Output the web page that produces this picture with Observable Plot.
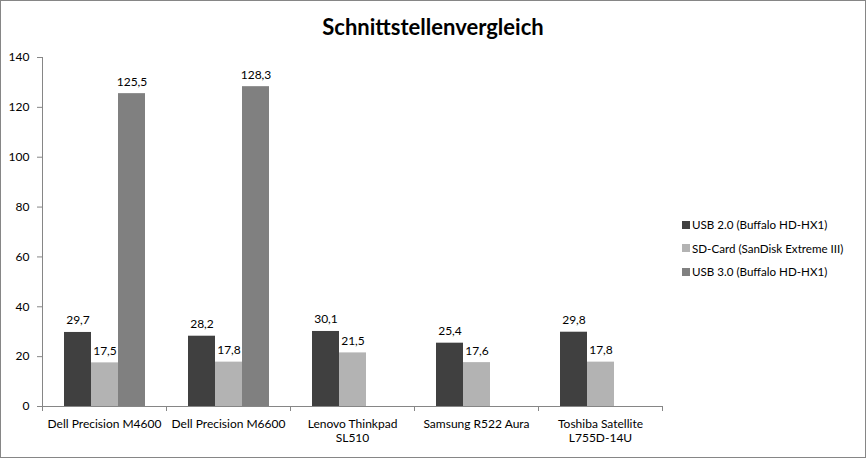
<!DOCTYPE html>
<html>
<head>
<meta charset="utf-8">
<script src="https://cdn.jsdelivr.net/npm/d3@7"></script>
<script src="https://cdn.jsdelivr.net/npm/@observablehq/plot@0.6"></script>
<style>
  body { margin: 0; background: #fff; }
  #chart { position: relative; width: 866px; height: 458px; box-sizing: border-box; border: 1px solid #868686; font-family: Lato, "Open Sans", sans-serif; overflow: hidden; }
  #title { position: absolute; left: 0; top: 13px; width: 100%; text-align: center; font-size: 22px; font-weight: bold; line-height: 26px; color: #000; }
  #plot { position: absolute; left: 0; top: 0; }
  #legend { position: absolute; left: 681px; top: 212px; font-size: 11.6px; color: #000; }
  .row { display: flex; align-items: center; height: 23.5px; white-space: nowrap; }
  .sw { width: 8px; height: 8px; margin-right: 2px; }
</style>
</head>
<body>
<div id="chart">
  <div id="title">Schnittstellenvergleich</div>
  <div id="plot"></div>
  <div id="legend"></div>
</div>
<script>
const categories = ["Dell Precision M4600", "Dell Precision M6600", "Lenovo Thinkpad SL510", "Samsung R522 Aura", "Toshiba Satellite L755D-14U"];
const categoryLabels = ["Dell Precision M4600", "Dell Precision M6600", "Lenovo Thinkpad\nSL510", "Samsung R522 Aura", "Toshiba Satellite\nL755D-14U"];
const series = ["USB 2.0 (Buffalo HD-HX1)", "SD-Card (SanDisk Extreme III)", "USB 3.0 (Buffalo HD-HX1)"];
const usb2 = [29.7, 28.2, 30.1, 25.4, 29.8];
const sdCard = [17.5, 17.8, 21.5, 17.6, 17.8];
const usb3 = [125.5, 128.3, null, null, null];
const yTicks = [0, 20, 40, 60, 80, 100, 120, 140];
const colors = ["#404040", "#b3b3b3", "#808080"];

const values = [usb2, sdCard, usb3];
const data = [];
categories.forEach((c, i) => {
  series.forEach((s, j) => {
    const v = values[j][i];
    if (v != null) data.push({category: c, series: s, value: v});
  });
});

const de = d3.formatLocale({decimal: ",", thousands: ".", grouping: [3], currency: ["", "€"]});
const fmt = de.format(".1f");

const W = 864, H = 456, mL = 41, mR = 203, mT = 56, mB = 51;
const step = (W - mL - mR) / categories.length;
const labelOf = new Map(categories.map((c, i) => [c, categoryLabels[i]]));

const plot = Plot.plot({
  width: W,
  height: H,
  marginLeft: mL,
  marginRight: mR,
  marginTop: mT,
  marginBottom: mB,
  style: {fontFamily: "Lato, 'Open Sans', sans-serif", fontSize: "12px", background: "transparent"},
  fx: {domain: categories, padding: 0, axis: null},
  x: {domain: series, paddingInner: 0, paddingOuter: 0.75, axis: null},
  y: {domain: [0, 140], axis: null},
  color: {domain: series, range: colors},
  marks: [
    Plot.barY(data, {fx: "category", x: "series", y: "value", fill: "series", inset: 0}),
    Plot.text(data, {fx: "category", x: "series", y: "value", text: d => fmt(d.value), lineAnchor: "bottom", dy: -8, fill: "black", fontSize: 12}),
    Plot.ruleY([0], {stroke: "#868686"}),
    Plot.frame({anchor: "left", facetAnchor: "left", stroke: "#868686"}),
    Plot.axisY({ticks: yTicks, tickSize: 5, tickPadding: 8, stroke: "#868686", fill: "black", label: null, tickFormat: d => String(d), fontSize: 12}),
    Plot.axisFx({anchor: "bottom", tickSize: 0, tickPadding: 11, fill: "black", label: null, tickFormat: d => labelOf.get(d), lineHeight: 1.2, fontSize: 12}),
    Plot.axisFx({anchor: "bottom", tickSize: 5, fill: "none", stroke: "#868686", label: null, dx: -step / 2}),
    Plot.axisFx({anchor: "bottom", ticks: [categories[categories.length - 1]], tickSize: 5, fill: "none", stroke: "#868686", label: null, dx: step / 2})
  ]
});
document.getElementById("plot").appendChild(plot);

const legend = document.getElementById("legend");
series.forEach((s, i) => {
  const row = document.createElement("div");
  row.className = "row";
  const sw = document.createElement("span");
  sw.className = "sw";
  sw.style.background = colors[i];
  const t = document.createElement("span");
  t.textContent = s;
  row.appendChild(sw);
  row.appendChild(t);
  legend.appendChild(row);
});
</script>
</body>
</html>
